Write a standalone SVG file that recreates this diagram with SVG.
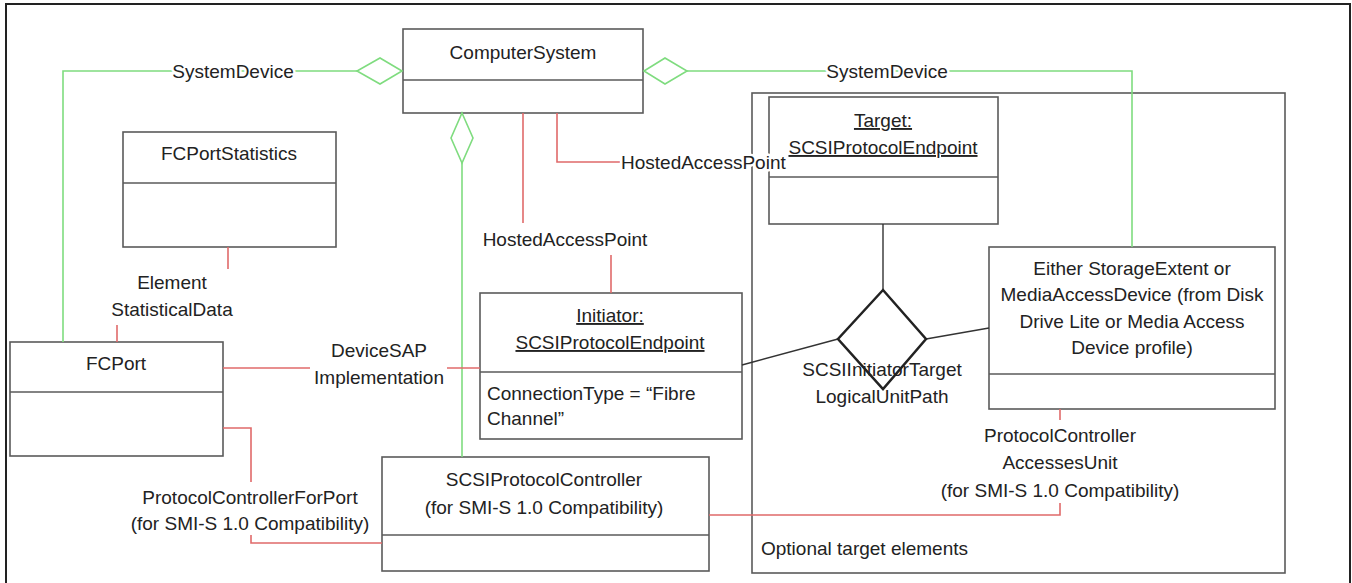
<svg xmlns="http://www.w3.org/2000/svg" width="1352" height="583" viewBox="0 0 1352 583">
<defs>
<style>
.box{fill:#fff;stroke:#5a5a5a;stroke-width:1.6}
.div{stroke:#5a5a5a;stroke-width:1.6}
.t{font-family:"Liberation Sans",Arial,sans-serif;font-size:19px;fill:#222}
.m{text-anchor:middle}
.u{text-decoration:underline}
.halo{paint-order:stroke;stroke:#fff;stroke-width:5px;stroke-linejoin:round}
.g{fill:none;stroke:#7fdc7f;stroke-width:1.6}
.gd{fill:#fff;stroke:#7fdc7f;stroke-width:1.6}
.r{fill:none;stroke:#e06a6a;stroke-width:1.6}
.k{fill:none;stroke:#333;stroke-width:1.4}
</style>
</defs>
<rect x="0" y="0" width="1352" height="583" fill="#fff"/>
<rect x="6" y="4" width="1344" height="600" fill="none" stroke="#222" stroke-width="2"/>

<g id="optional-target-elements">
<rect class="box" x="752" y="93" width="533" height="480"/>
<text class="t" x="761" y="555">Optional target elements</text>
</g>

<g id="ComputerSystem">
<rect class="box" x="403" y="29" width="240" height="84"/>
<line class="div" x1="403" y1="80" x2="643" y2="80"/>
<text class="t m" x="523" y="58.5">ComputerSystem</text>
</g>

<g id="FCPortStatistics">
<rect class="box" x="123" y="132" width="213" height="115"/>
<line class="div" x1="123" y1="183" x2="336" y2="183"/>
<text class="t m" x="229" y="160">FCPortStatistics</text>
</g>

<g id="FCPort">
<rect class="box" x="10" y="342" width="213" height="114"/>
<line class="div" x1="10" y1="392" x2="223" y2="392"/>
<text class="t m" x="116" y="370">FCPort</text>
</g>

<g id="InitiatorEndpoint">
<rect class="box" x="480" y="293" width="262" height="146"/>
<line class="div" x1="480" y1="372" x2="742" y2="372"/>
<text class="t m u" x="610" y="322">Initiator:</text>
<text class="t m u" x="610" y="349">SCSIProtocolEndpoint</text>
<text class="t" x="487" y="400">ConnectionType = “Fibre</text>
<text class="t" x="487" y="425">Channel”</text>
</g>

<g id="SCSIProtocolController">
<rect class="box" x="382" y="457" width="327" height="114"/>
<line class="div" x1="382" y1="535" x2="709" y2="535"/>
<text class="t m" x="544" y="486">SCSIProtocolController</text>
<text class="t m" x="544" y="514">(for SMI-S 1.0 Compatibility)</text>
</g>

<g id="TargetEndpoint">
<rect class="box" x="769" y="97" width="229" height="127"/>
<line class="div" x1="769" y1="177" x2="998" y2="177"/>
<text class="t m u" x="883" y="127">Target:</text>
<text class="t m u" x="883" y="154">SCSIProtocolEndpoint</text>
</g>

<g id="StorageExtentOrMediaAccessDevice">
<rect class="box" x="989" y="247" width="286" height="162"/>
<line class="div" x1="989" y1="374" x2="1275" y2="374"/>
<text class="t m" x="1132" y="275">Either StorageExtent or</text>
<text class="t m" x="1132" y="301">MediaAccessDevice (from Disk</text>
<text class="t m" x="1132" y="328">Drive Lite or Media Access</text>
<text class="t m" x="1132" y="354">Device profile)</text>
</g>

<g id="connectors">
<!-- SystemDevice left -->
<polyline class="g" points="357,71 63,71 63,342"/>
<polygon class="gd" points="402,71 380,58 357,71 380,84"/>
<text class="t m halo" x="233" y="77.5">SystemDevice</text>
<!-- SystemDevice right -->
<polyline class="g" points="687,71 1132,71 1132,247"/>
<polygon class="gd" points="644,71 665,58 687,71 665,84"/>
<text class="t m halo" x="887" y="77.5">SystemDevice</text>
<!-- SystemDevice to controller -->
<line class="g" x1="462" y1="163" x2="462" y2="457"/>
<polygon class="gd" points="462,113 473,138 462,163 451,138"/>
<!-- HostedAccessPoint to initiator -->
<polyline class="r" points="523,113 523,223"/>
<polyline class="r" points="611,255 611,293"/>
<text class="t m" x="565" y="245.5">HostedAccessPoint</text>
<!-- HostedAccessPoint to target -->
<polyline class="r" points="557,113 557,162 620,162"/>
<text class="t halo" x="621" y="169">HostedAccessPoint</text>
<!-- ElementStatisticalData -->
<line class="r" x1="228" y1="247" x2="228" y2="269"/>
<line class="r" x1="117" y1="325" x2="117" y2="342"/>
<text class="t m" x="172" y="289">Element</text>
<text class="t m" x="172" y="316">StatisticalData</text>
<!-- DeviceSAPImplementation -->
<line class="r" x1="223" y1="368" x2="310" y2="368"/>
<line class="r" x1="447" y1="368" x2="480" y2="368"/>
<text class="t m" x="379" y="357">DeviceSAP</text>
<text class="t m" x="379" y="384">Implementation</text>
<!-- ProtocolControllerForPort -->
<polyline class="r" points="223,428 251,428 251,482"/>
<polyline class="r" points="251,535 251,543 382,543"/>
<text class="t m" x="250" y="504">ProtocolControllerForPort</text>
<text class="t m" x="250" y="530">(for SMI-S 1.0 Compatibility)</text>
<!-- ProtocolControllerAccessesUnit -->
<line class="r" x1="1060" y1="409" x2="1060" y2="420"/>
<polyline class="r" points="1060,503 1060,515 709,515"/>
<text class="t m" x="1060" y="442">ProtocolController</text>
<text class="t m" x="1060" y="469">AccessesUnit</text>
<text class="t m" x="1060" y="497">(for SMI-S 1.0 Compatibility)</text>
<!-- SCSIInitiatorTargetLogicalUnitPath -->
<line class="k" x1="883" y1="224" x2="883" y2="290"/>
<line class="k" x1="742" y1="365" x2="838" y2="339"/>
<line class="k" x1="926" y1="339" x2="989" y2="328"/>
<text class="t m" x="882" y="376">SCSIInitiatorTarget</text>
<text class="t m" x="882" y="403">LogicalUnitPath</text>
<polygon points="883,290 926,339 883,389 838,339" fill="none" stroke="#222" stroke-width="2.5"/>
</g>
</svg>
